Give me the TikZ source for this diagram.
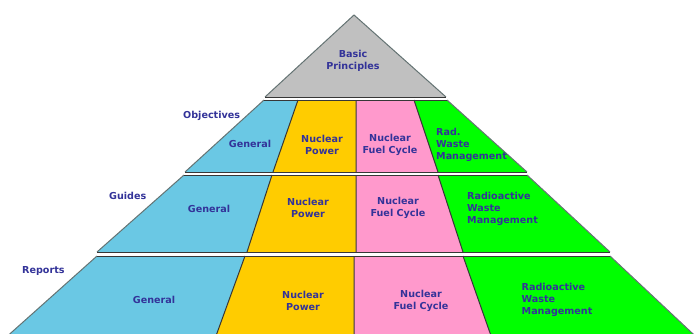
\documentclass[tikz,border=0pt]{standalone}
\usepackage{fontspec}
\setmainfont{DejaVu Sans}
\definecolor{gblue}{RGB}{106,200,228}
\definecolor{gyel}{RGB}{255,204,0}
\definecolor{gpink}{RGB}{255,153,204}
\definecolor{ggreen}{RGB}{0,255,0}
\definecolor{ggray}{RGB}{192,192,192}
\definecolor{txtblue}{RGB}{51,51,153}
\definecolor{edgegray}{RGB}{100,115,115}
\definecolor{darkline}{RGB}{55,55,55}
\begin{document}
\begin{tikzpicture}[x=1pt,y=-1pt,
  lbl/.style={font=\fontsize{9.6}{12}\selectfont\bfseries, text=txtblue, align=center, inner sep=0pt},
  lblL/.style={lbl, align=left, anchor=west},
  edge/.style={draw=edgegray, line width=1pt},
  hline/.style={draw=darkline, line width=1pt},
  divider/.style={draw=darkline, line width=1pt}]
\clip (0,0) rectangle (696,333);
\fill[white] (0,0) rectangle (696,333);
% apex triangle
\fill[ggray] (354,15) -- (446,97) -- (265,97) -- cycle;
\draw[edge] (265,97) -- (354,15) -- (446,97);
\draw[hline] (265,97) -- (446,97);
% Objectives tier
\fill[gblue] (264,100) -- (298,100) -- (273,172) -- (185,172) -- cycle;
\fill[gyel] (298,100) -- (356,100) -- (356,172) -- (273,172) -- cycle;
\fill[gpink] (356,100) -- (414,100) -- (438,172) -- (356,172) -- cycle;
\fill[ggreen] (414,100) -- (447,100) -- (527,172) -- (438,172) -- cycle;
\draw[divider] (298,100) -- (273,172) (356,100) -- (356,172) (414,100) -- (438,172);
\draw[edge] (264,100) -- (185,172) (447,100) -- (527,172);
\draw[hline] (264,100) -- (447,100) (185,172) -- (527,172);
% Guides tier
\fill[gblue] (184,175) -- (272,175) -- (247,252) -- (97,252) -- cycle;
\fill[gyel] (272,175) -- (356,175) -- (356,252) -- (247,252) -- cycle;
\fill[gpink] (356,175) -- (438,175) -- (463,252) -- (356,252) -- cycle;
\fill[ggreen] (438,175) -- (527,175) -- (610,252) -- (463,252) -- cycle;
\draw[divider] (272,175) -- (247,252) (356,175) -- (356,252) (438,175) -- (463,252);
\draw[edge] (184,175) -- (97,252) (527,175) -- (610,252);
\draw[hline] (184,175) -- (527,175) (97,252) -- (610,252);
% Reports tier
\fill[gblue] (97,256) -- (245,256) -- (214.5,340) -- (3,340) -- cycle;
\fill[gyel] (245,256) -- (354,256) -- (354,340) -- (214.5,340) -- cycle;
\fill[gpink] (354,256) -- (463,256) -- (492.5,340) -- (354,340) -- cycle;
\fill[ggreen] (463,256) -- (610,256) -- (699.5,340) -- (492.5,340) -- cycle;
\draw[divider] (245,256) -- (214.5,340) (354,256) -- (354,340) (463,256) -- (492.5,340);
\draw[edge] (97,256) -- (3,340) (610,256) -- (699.5,340);
\draw[hline] (97,256) -- (610,256);
% texts
\node[lbl] (basic) at (353,61) {Basic\\Principles};
\node[lblL] (objl) at (183,116) {Objectives};
\node[lbl] (og) at (250,144) {General};
\node[lbl] (onp) at (322,145) {Nuclear\\Power};
\node[lbl] (onf) at (390,145) {Nuclear\\Fuel Cycle};
\node[lblL] (orw) at (436,145) {Rad.\\Waste\\Management};
\node[lblL] (gdl) at (109,196) {Guides};
\node[lbl] (gg) at (209,208.5) {General};
\node[lbl] (gnp) at (308,208) {Nuclear\\Power};
\node[lbl] (gnf) at (398,208) {Nuclear\\Fuel Cycle};
\node[lblL] (grw) at (467,208.5) {Radioactive\\Waste\\Management};
\node[lblL] (rpl) at (22,271) {Reports};
\node[lbl] (rg) at (154,300) {General};
\node[lbl] (rnp) at (303,301) {Nuclear\\Power};
\node[lbl] (rnf) at (421,301) {Nuclear\\Fuel Cycle};
\node[lblL] (rrw) at (521.5,300) {Radioactive\\Waste\\Management};
\end{tikzpicture}
\end{document}
